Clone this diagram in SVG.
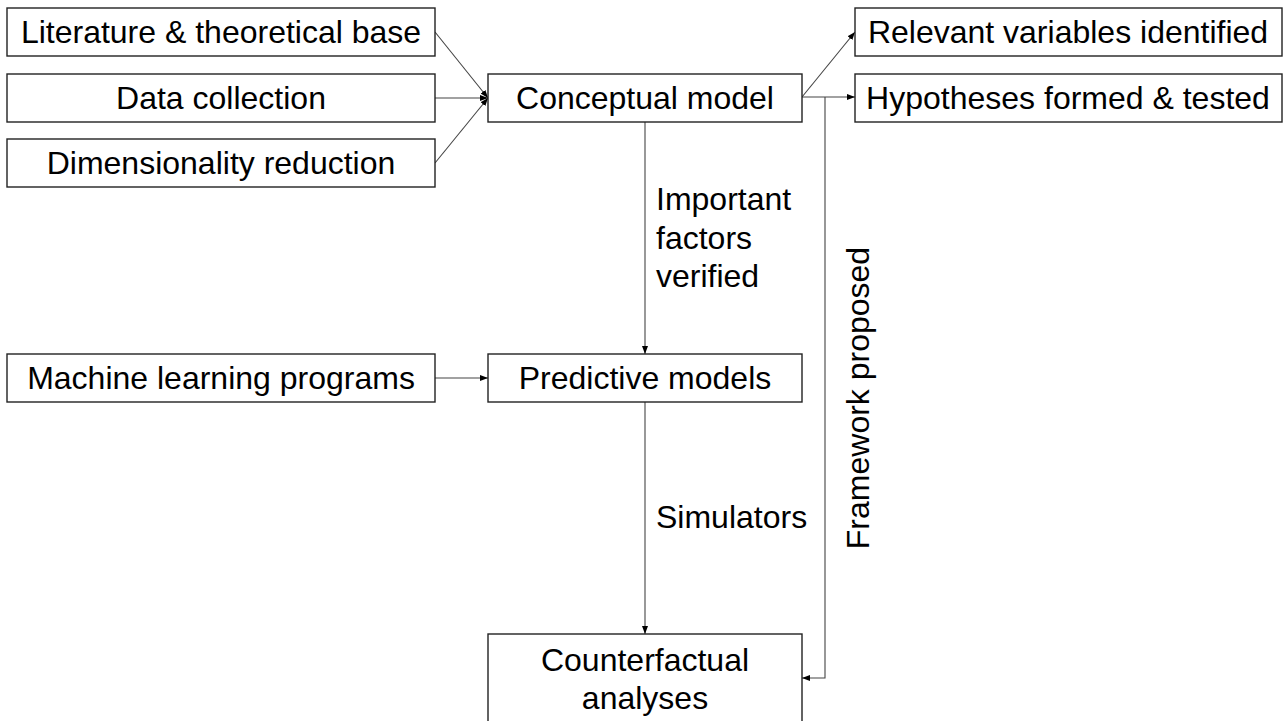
<svg xmlns="http://www.w3.org/2000/svg" width="1286" height="721" viewBox="0 0 1286 721">
<defs>
<style>
.box{fill:#fff;stroke:#222;stroke-width:1.4}
.t{font-family:"Liberation Sans",Arial,sans-serif;font-size:32px;fill:#000}
.c{text-anchor:middle}
.ln{fill:none;stroke:#444;stroke-width:1.1}
</style>
<marker id="ah" viewBox="0 0 8 6" refX="8" refY="3" markerWidth="8" markerHeight="6" markerUnits="userSpaceOnUse" orient="auto">
<path d="M0,0 L8,3 L0,6 z" fill="#000"/>
</marker>
</defs>
<rect width="1286" height="721" fill="#fff"/>
<g id="connectors">
<line class="ln" x1="435" y1="32" x2="488" y2="98" marker-end="url(#ah)"/>
<line class="ln" x1="435" y1="98" x2="488" y2="98" stroke="#888" marker-end="url(#ah)"/>
<line class="ln" x1="435" y1="163" x2="488" y2="98" marker-end="url(#ah)"/>
<line class="ln" x1="802" y1="97" x2="855" y2="32" marker-end="url(#ah)"/>
<line class="ln" x1="802" y1="97" x2="855" y2="97" marker-end="url(#ah)"/>
<polyline class="ln" points="825,97 825,678 802,678" marker-end="url(#ah)"/>
<line class="ln" x1="645" y1="122" x2="645" y2="354" marker-end="url(#ah)"/>
<line class="ln" x1="435" y1="378" x2="488" y2="378" marker-end="url(#ah)"/>
<line class="ln" x1="645" y1="402" x2="645" y2="634" marker-end="url(#ah)"/>
<text class="t" x="656" y="210">Important</text>
<text class="t" x="656" y="249">factors</text>
<text class="t" x="656" y="287">verified</text>
<text class="t" x="656" y="528">Simulators</text>
<text class="t c" transform="translate(869,398) rotate(-90)">Framework proposed</text>
</g>
<g id="n-literature"><rect class="box" x="7" y="8" width="428" height="48"/><text class="t c" x="221" y="43">Literature &amp; theoretical base</text></g>
<g id="n-data"><rect class="box" x="7" y="74" width="428" height="48"/><text class="t c" x="221" y="109">Data collection</text></g>
<g id="n-dim"><rect class="box" x="7" y="139" width="428" height="48"/><text class="t c" x="221" y="174">Dimensionality reduction</text></g>
<g id="n-conceptual"><rect class="box" x="488" y="74" width="314" height="48"/><text class="t c" x="645" y="109">Conceptual model</text></g>
<g id="n-relevant"><rect class="box" x="855" y="8" width="427" height="48"/><text class="t c" x="1068" y="43">Relevant variables identified</text></g>
<g id="n-hypotheses"><rect class="box" x="855" y="74" width="427" height="48"/><text class="t c" x="1068" y="109">Hypotheses formed &amp; tested</text></g>
<g id="n-ml"><rect class="box" x="7" y="354" width="428" height="48"/><text class="t c" x="221" y="389">Machine learning programs</text></g>
<g id="n-predictive"><rect class="box" x="488" y="354" width="314" height="48"/><text class="t c" x="645" y="389">Predictive models</text></g>
<g id="n-counterfactual"><rect class="box" x="488" y="634" width="314" height="100"/><text class="t c" x="645" y="671">Counterfactual</text><text class="t c" x="645" y="709">analyses</text></g>
</svg>
